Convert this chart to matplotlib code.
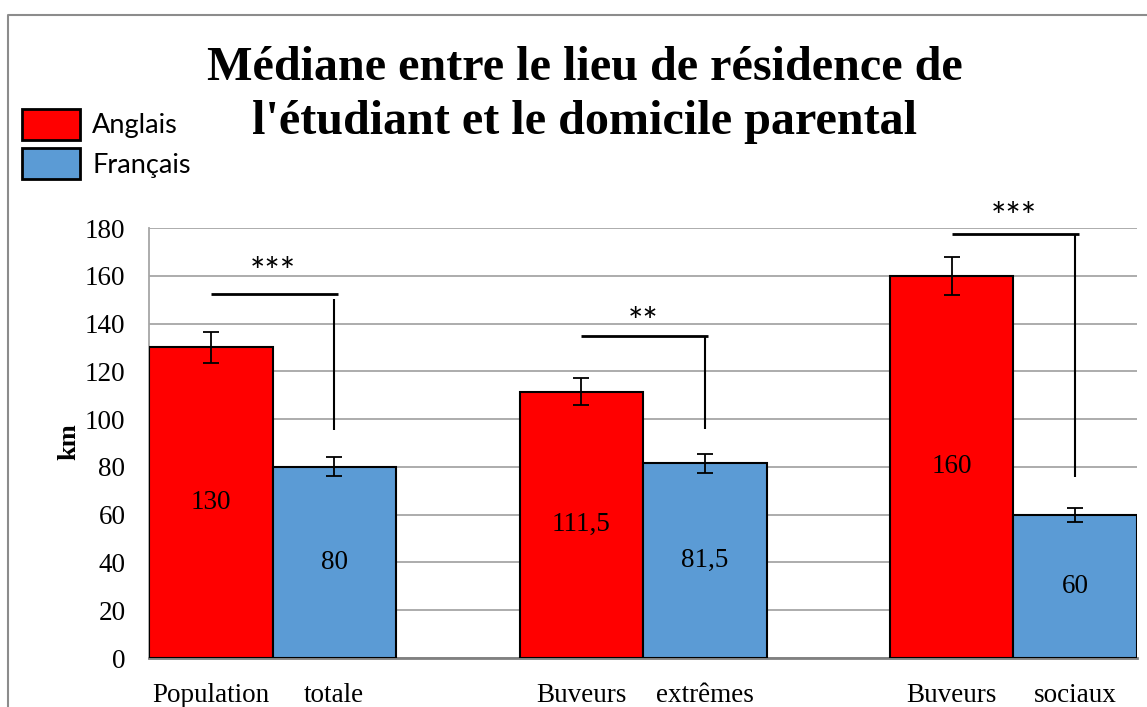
import numpy as np
import matplotlib.pyplot as plt
from matplotlib.patches import Patch
from matplotlib.lines import Line2D

# valeurs (km)
groups = ["Population totale", "Buveurs extrêmes", "Buveurs sociaux"]
bar_labels = ["Population", "totale", "Buveurs", "extrêmes", "Buveurs", "sociaux"]
anglais = [130, 111.5, 160]
francais = [80, 81.5, 60]
err_anglais = [6.5, 5.6, 8]
err_francais = [4, 4, 3]
value_labels_ang = ["130", "111,5", "160"]
value_labels_fr = ["80", "81,5", "60"]

# tests de significativité
sig_top = [152.2, 134.8, 177.5]
sig_bottom = [95.5, 95.8, 75.8]
sig_text = ["***", "**", "***"]
sig_text_y = [166, 145, 189]

red = "#FF0000"
blue = "#5B9BD5"
grid_col = "#A6A6A6"
serif = "Liberation Serif"
sans = "Lato"

fig = plt.figure(figsize=(11.47, 7.07), dpi=100)
ax = fig.add_axes([149 / 1147, 1 - 658 / 707, 988 / 1147, 430 / 707])

x = np.arange(len(groups))
w = 1 / 3
xr = x - w / 2
xb = x + w / 2

ax.bar(xr, anglais, w, color=red, edgecolor="black", linewidth=1.5, zorder=3)
ax.bar(xb, francais, w, color=blue, edgecolor="black", linewidth=1.5, zorder=3)
ax.errorbar(xr, anglais, yerr=err_anglais, fmt="none", ecolor="black",
            elinewidth=1.3, capsize=6, capthick=1.3, zorder=4)
ax.errorbar(xb, francais, yerr=err_francais, fmt="none", ecolor="black",
            elinewidth=1.3, capsize=6, capthick=1.3, zorder=4)

for i in range(len(groups)):
    ax.text(xr[i], anglais[i] / 2, value_labels_ang[i], ha="center", va="center",
            fontsize=19.5, family=serif, zorder=5)
    ax.text(xb[i], francais[i] / 2, value_labels_fr[i], ha="center", va="center",
            fontsize=19.5, family=serif, zorder=5)

    # crochet de significativité
    ax.plot([xr[i], xb[i] + 0.01], [sig_top[i], sig_top[i]], color="black",
            lw=2, zorder=5, solid_capstyle="butt")
    v0 = sig_top[i] - (2 if i == 0 else 0)
    ax.plot([xb[i], xb[i]], [v0, sig_bottom[i]], color="black",
            lw=1.5, zorder=5, solid_capstyle="butt")
    ax.text(x[i], sig_text_y[i] - 5, sig_text[i], ha="center", va="center",
            fontsize=26, family=sans, zorder=5)

ax.set_xlim(-w, 2 + w)
ax.set_ylim(0, 180)
ax.set_yticks(range(0, 181, 20))
ax.yaxis.grid(True, color=grid_col, linewidth=1.3, zorder=0)
ax.set_axisbelow(True)

ticks_x = np.ravel(np.column_stack([xr, xb]))
ax.set_xticks(ticks_x)
ax.set_xticklabels(bar_labels)
ax.tick_params(axis="both", length=0, labelsize=19.5)
ax.tick_params(axis="x", pad=18)
ax.tick_params(axis="y", pad=17)
for lab in ax.get_xticklabels() + ax.get_yticklabels():
    lab.set_family(serif)

for side in ["top", "right"]:
    ax.spines[side].set_visible(False)
ax.spines["left"].set_color(grid_col)
ax.spines["left"].set_linewidth(1.3)
ax.spines["bottom"].set_color("#808080")
ax.spines["bottom"].set_linewidth(2)

ax.set_ylabel("km", fontsize=19, family=serif, fontweight="bold")
ax.yaxis.set_label_coords(-69 / 988, (658 - 442) / 430)

fig.text(585 / 1147, 1 - 95 / 707,
         "Médiane entre le lieu de résidence de\nl'étudiant et le domicile parental",
         ha="center", va="center", fontsize=34.7, family=serif, fontweight="bold",
         linespacing=1.3)

handles = [Patch(facecolor=red, edgecolor="black", linewidth=2),
           Patch(facecolor=blue, edgecolor="black", linewidth=2)]
fig.legend(handles, ["Anglais", "Français"], loc="upper left",
           bbox_to_anchor=(19 / 1147, 1 - 106 / 707), frameon=False,
           prop={"family": sans, "size": 19.5}, handlelength=2.15, handleheight=1.4,
           handletextpad=0.45, labelspacing=0.3, borderpad=0.1, borderaxespad=0)

# cadre du graphique
fig.add_artist(Line2D([8 / 1147, 8 / 1147, 1], [0, 1 - 14.5 / 707, 1 - 14.5 / 707],
                      color="#8C8C8C", lw=1.5, transform=fig.transFigure))

fig.savefig("out.png", dpi=100)
